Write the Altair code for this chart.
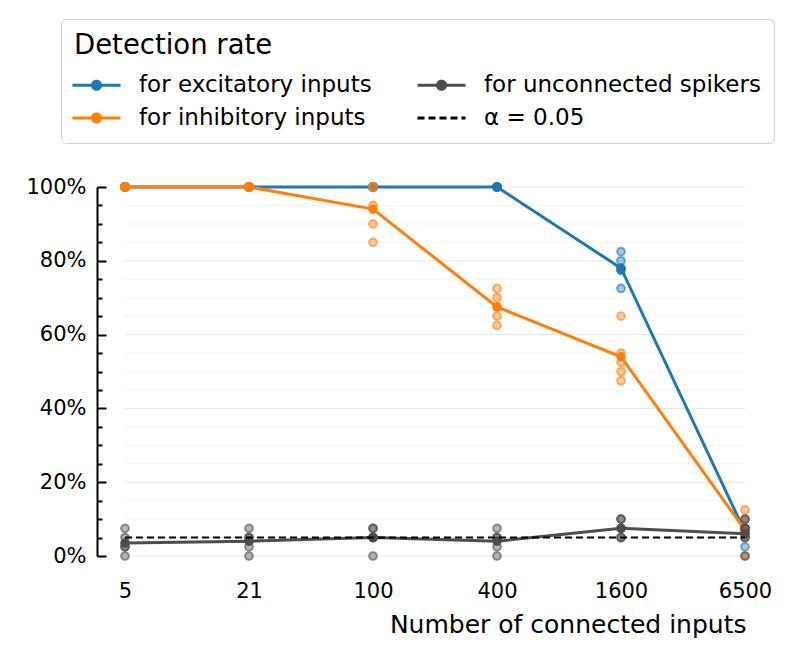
import altair as alt
import pandas as pd

# ---------------- data ----------------
categories = ["5", "21", "100", "400", "1600", "6500"]
series_names = ["for excitatory inputs", "for inhibitory inputs", "for unconnected spikers"]
alpha_label = "α = 0.05"
alpha_level = 5.0

# detection rates (%) of the individual runs, one list per category
excitatory_rates = [
    [100, 100, 100, 100, 100],
    [100, 100, 100, 100, 100],
    [100, 100, 100, 100, 100],
    [100, 100, 100, 100, 100],
    [82.5, 80, 77.5, 77.5, 72.5],
    [2.5, 5, 7.5, 7.5, 10],
]
inhibitory_rates = [
    [100, 100, 100, 100, 100],
    [100, 100, 100, 100, 100],
    [100, 100, 95, 90, 85],
    [72.5, 70, 67.5, 65, 62.5],
    [65, 55, 52.5, 50, 47.5],
    [12.5, 10, 7.5, 5, 0],
]
unconnected_rates = [
    [7.5, 5, 2.5, 2.5, 0],
    [7.5, 5, 5, 2.5, 0],
    [7.5, 7.5, 5, 5, 0],
    [7.5, 5, 5, 2.5, 0],
    [10, 10, 7.5, 5, 5],
    [10, 7.5, 7.5, 5, 0],
]
major_levels = [0, 20, 40, 60, 80, 100]
minor_levels = [5, 10, 15, 25, 30, 35, 45, 50, 55, 65, 70, 75, 85, 90, 95]

series_colors = {"for excitatory inputs": "#1f77b4",
                 "for inhibitory inputs": "#ff7f0e",
                 "for unconnected spikers": "#4d4d4d"}

# ---------------- tables ----------------
rows = []
for name, table in zip(series_names, [excitatory_rates, inhibitory_rates, unconnected_rates]):
    for cat, vals in zip(categories, table):
        for v in vals:
            rows.append({"n": cat, "series": name, "rate": v})
df = pd.DataFrame(rows)

major_df = pd.DataFrame({"level": major_levels, "x0": categories[0], "x1": categories[-1]})
minor_df = pd.DataFrame({"level": minor_levels, "x0": categories[0], "x1": categories[-1]})
alpha_df = pd.DataFrame({"level": [alpha_level], "x0": [categories[0]], "x1": [categories[-1]]})

# ---------------- layout ----------------
W, H = 676, 369
FONT = "DejaVu Sans"

legend_domain = series_names + [alpha_label]
legend_range = [series_colors[s] for s in series_names] + ["#000000"]
color_scale = alt.Scale(domain=legend_domain, range=legend_range)

dot_path = "M-2,0L2,0M0.34,0A0.34,0.34,0,1,1,-0.34,0A0.34,0.34,0,1,1,0.34,0Z"
dash_path = "M-2,0L2,0"
shape_scale = alt.Scale(domain=legend_domain, range=[dot_path, dot_path, dot_path, dash_path])
dash_scale = alt.Scale(domain=legend_domain, range=[[1, 0], [1, 0], [1, 0], [7, 4]])

x_axis = alt.Axis(labelFontSize=21, labelAngle=0, ticks=False, domain=False, labelPadding=24,
                  title="Number of connected inputs", titleFontSize=25, titleFontWeight="normal",
                  titleAlign="right", titleX=649, titlePadding=11, labelColor="black",
                  titleColor="black", grid=False, labelFont=FONT, titleFont=FONT)
x_scale = alt.Scale(type="point", domain=categories, padding=0.2258)
y_scale = alt.Scale(domain=[0, 100], nice=False, zero=True)


def xenc(field="n:O"):
    return alt.X(field, scale=x_scale, axis=x_axis, title="Number of connected inputs")


legend = alt.Legend(
    title="Detection rate", orient="none", legendX=-36, legendY=-168,
    columns=2, columnPadding=39, rowPadding=7, direction="vertical",
    titleFontSize=27.5, titleFontWeight="normal", titleColor="black", titlePadding=12,
    titleFont=FONT, labelFont=FONT, titleLimit=700,
    labelFontSize=23, labelColor="black", labelOffset=29, labelLimit=500,
    symbolSize=576, symbolStrokeWidth=3, symbolOffset=9, symbolOpacity=1,
    fillColor="white", strokeColor="#d0d0d0", cornerRadius=5, padding=13,
)

# grid (minor) + minor inward ticks
minor_grid = alt.Chart(minor_df).mark_rule(color="#f3f3f3", strokeWidth=1).encode(
    x=xenc("x0:O"), x2="x1:O",
    y=alt.Y("level:Q", scale=y_scale, axis=alt.Axis(
        orient="right", offset=-W, values=minor_levels, labels=False, domain=False,
        grid=False, ticks=True, tickSize=5, tickWidth=2, tickColor="black", title=None)),
)
# grid (major) + labelled spine
major_grid = alt.Chart(major_df).mark_rule(color="#e6e6e6", strokeWidth=1).encode(
    x=xenc("x0:O"), x2="x1:O",
    y=alt.Y("level:Q", scale=y_scale, axis=alt.Axis(
        orient="left", values=major_levels, labelExpr="datum.value + '%'", ticks=False,
        tickSize=0, domain=True, domainColor="black", domainWidth=2, labelFontSize=21,
        labelPadding=11, grid=False, title=None, labelColor="black", labelFont=FONT)),
)

layers = [minor_grid, major_grid]
for name in series_names:
    c = series_colors[name]
    base = alt.Chart(df).transform_filter(alt.datum.series == name)
    line = base.mark_line(strokeWidth=3, color=c).encode(
        x=xenc(),
        y=alt.Y("mean(rate):Q", scale=y_scale, axis=None),
    )
    means = base.mark_circle(size=90, opacity=1, color=c).encode(
        x=xenc(),
        y=alt.Y("mean(rate):Q", scale=y_scale, axis=None),
    )
    scatter = base.mark_circle(size=60, opacity=1, fill=c, fillOpacity=0.4, stroke=c,
                               strokeWidth=2, strokeOpacity=0.6).encode(
        x=xenc(),
        y=alt.Y("rate:Q", scale=y_scale, axis=None),
    )
    layers += [line, means, scatter]

alpha_rule = alt.Chart(alpha_df).mark_rule(color="black", strokeWidth=2, strokeDash=[7, 4]).encode(
    x=xenc("x0:O"), x2="x1:O",
    y=alt.Y("level:Q", scale=y_scale, axis=alt.Axis(
        orient="right", offset=-W, values=major_levels, labels=False, domain=False,
        grid=False, ticks=True, tickSize=9, tickWidth=2, tickColor="black", title=None)),
)
layers.append(alpha_rule)

# legend carrier: no rows survive the filter, the legend comes from the scale domains
legend_layer = alt.Chart(df).transform_filter("false").mark_point(
    filled=True, opacity=1, strokeWidth=3).encode(
    x=xenc(),
    y=alt.Y("rate:Q", scale=y_scale, axis=None),
    color=alt.Color("series:N", scale=color_scale, legend=legend),
    stroke=alt.Stroke("series:N", scale=color_scale, legend=legend),
    shape=alt.Shape("series:N", scale=shape_scale, legend=legend),
    strokeDash=alt.StrokeDash("series:N", scale=dash_scale, legend=legend),
)
layers.append(legend_layer)

chart = alt.layer(*layers).resolve_axis(y="independent").resolve_scale(y="shared").properties(
    width=W, height=H, padding={"left": 17, "top": 10, "right": 5, "bottom": 5}
).configure(font=FONT, view=alt.ViewConfig(stroke=None))

chart.save("out.html", embed_options={"renderer": "svg", "actions": False})
